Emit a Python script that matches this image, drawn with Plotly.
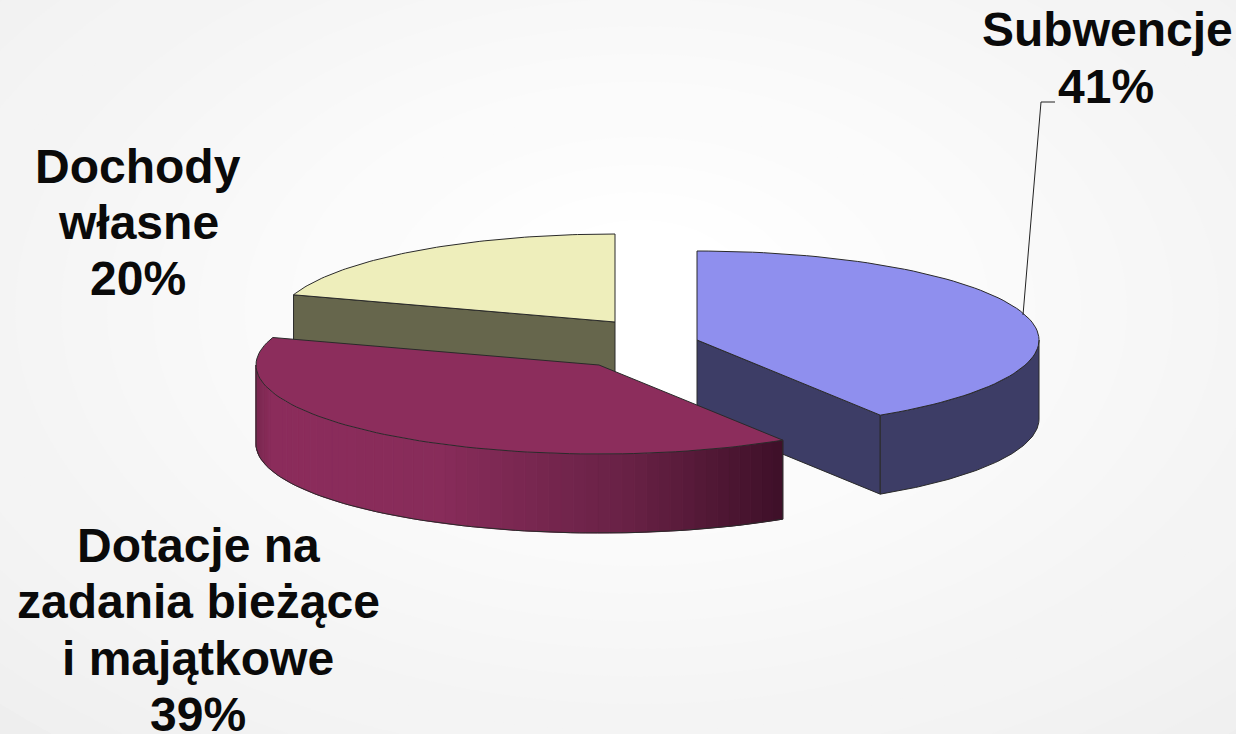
import numpy as np
import plotly.graph_objects as go

# --- data ---
categories = ["Subwencje", "Dotacje na zadania bieżące i majątkowe", "Dochody własne"]
shares = [41, 39, 20]
label_lines = [["Subwencje", "41%"],
               ["Dotacje na", "zadania bieżące", "i majątkowe", "39%"],
               ["Dochody", "własne", "20%"]]

# --- layout / style ---
W, H = 1236, 734
RXS = [342, 343, 338]
RYS = [89, 89, 88]
DEPTH = 79
apexes = [(697, 340), (599, 365), (615, 322)]
top_colors = ["#8f8fee", "#8c2d5c", "#eeeebb"]
side_colors = ["#3d3d66", "#8c2d5c", "#66664c"]
label_pos = [[(1107, 29), (1106, 86)],
             [(198, 545), (198, 601), (198, 658), (198, 714)],
             [(138, 166), (138, 222), (138, 278)]]
EDGE = "#2a2a2a"
FONT = dict(family="Liberation Sans", size=48, color="#0a0a0a")


def arc(i, a0, a1, dy=0, n=80):
    t = np.radians(np.linspace(a0, a1, n))
    return apexes[i][0] + RXS[i] * np.sin(t), apexes[i][1] - RYS[i] * np.cos(t) + dy


fig = go.Figure()


def poly(xs, ys, fill, line=None, width=1):
    fig.add_trace(go.Scatter(
        x=list(xs), y=list(ys), mode="lines", fill="toself", fillcolor=fill,
        line=dict(color=line or fill, width=width if line else 0),
        hoverinfo="skip", showlegend=False))


def line(xs, ys, color=EDGE, width=1):
    fig.add_trace(go.Scatter(x=list(xs), y=list(ys), mode="lines",
                             line=dict(color=color, width=width),
                             hoverinfo="skip", showlegend=False))


edges = np.concatenate([[0], np.cumsum(shares)]) * 3.6
spans = [(edges[i], edges[i + 1]) for i in range(len(shares))]


def draw_slice(i, gradient=None):
    a0, a1 = spans[i]
    ap = apexes[i]
    ax, ay = arc(i, a0, a1)
    bx, by = arc(i, a0, a1, DEPTH)
    side = side_colors[i]

    # flat cut faces (only those turned to the viewer)
    if i == 0:  # end face from apex to the end of the arc
        poly([ap[0], ax[-1], bx[-1], ap[0], ap[0]],
             [ap[1], ay[-1], by[-1], ap[1] + DEPTH, ap[1]], side, EDGE)
    if i == 2:  # start face from the apex to the start of the arc
        poly([ap[0], ax[0], bx[0], ap[0], ap[0]],
             [ap[1], ay[0], by[0], ap[1] + DEPTH, ap[1]], side, EDGE)

    # rim: only the part of the arc that faces the viewer (90..270 degrees)
    v0, v1 = max(a0, 90), min(a1, 270)
    if v1 > v0:
        vx, vy = arc(i, v0, v1)
        wx, wy = arc(i, v0, v1, DEPTH)
        if gradient is None:
            poly(np.r_[vx, wx[::-1], vx[0]], np.r_[vy, wy[::-1], vy[0]], side, EDGE)
        else:
            n = 60
            ts = np.linspace(v0, v1, n + 1)
            stops = gradient
            for k in range(n):
                qx, qy = arc(i, ts[k], ts[k + 1], 0, 4)
                rx_, ry_ = arc(i, ts[k], ts[k + 1], DEPTH, 4)
                f = (0.5 * (qx[0] + qx[-1]) - (ap[0] - RXS[i])) / (2 * RXS[i] * 0.77)
                f = min(max(f, 0), 1)
                c = [int(np.interp(f, [s[0] for s in stops], [s[1][j] for s in stops])) for j in range(3)]
                col = "rgb(%d,%d,%d)" % tuple(c)
                poly(np.r_[qx, rx_[::-1], qx[0]], np.r_[qy, ry_[::-1], qy[0]], col, col, 1)
            line(wx, wy)
            line([vx[0], wx[0]], [vy[0], wy[0]])
            line([vx[-1], wx[-1]], [vy[-1], wy[-1]])
    # top face
    poly(np.r_[ap[0], ax, ap[0]], np.r_[ap[1], ay, ap[1]], top_colors[i], EDGE)


draw_slice(2)
draw_slice(0)
draw_slice(1, gradient=[(0, (122, 40, 80)), (0.03, (140, 45, 92)), (0.35, (136, 44, 90)),
                        (0.7, (105, 34, 70)), (1, (62, 16, 40))])

# leader line for the first label
line([1023, 1041, 1055], [315, 102, 102], "#222222", 1)

annotations = []
for lines_, pos in zip(label_lines, label_pos):
    for txt, (x, y) in zip(lines_, pos):
        annotations.append(dict(x=x, y=y, text="<b>%s</b>" % txt, showarrow=False,
                                xanchor="center", yanchor="middle", font=FONT))

# soft radial backdrop
shapes = []
steps = 18
for k in range(steps):
    f = k / (steps - 1)
    v = int(round(240 + (255 - 240) * f))
    rx_bg, ry_bg = 900 * (1 - f) + 120 * f, 560 * (1 - f) + 90 * f
    shapes.append(dict(type="circle", xref="x", yref="y", layer="below",
                       x0=640 - rx_bg, x1=640 + rx_bg, y0=310 - ry_bg, y1=310 + ry_bg,
                       fillcolor="rgb(%d,%d,%d)" % (v, v, v), line=dict(width=0)))

fig.update_layout(
    width=W, height=H, margin=dict(l=0, r=0, t=0, b=0),
    paper_bgcolor="#eeeeee", plot_bgcolor="rgba(0,0,0,0)", showlegend=False,
    xaxis=dict(range=[0, W], visible=False, fixedrange=True),
    yaxis=dict(range=[H, 0], visible=False, fixedrange=True),
    shapes=shapes, annotations=annotations)

fig.write_html("out.html", config=dict(displayModeBar=False),
               post_script="document.body.style.margin='0';document.body.style.overflow='hidden';")
